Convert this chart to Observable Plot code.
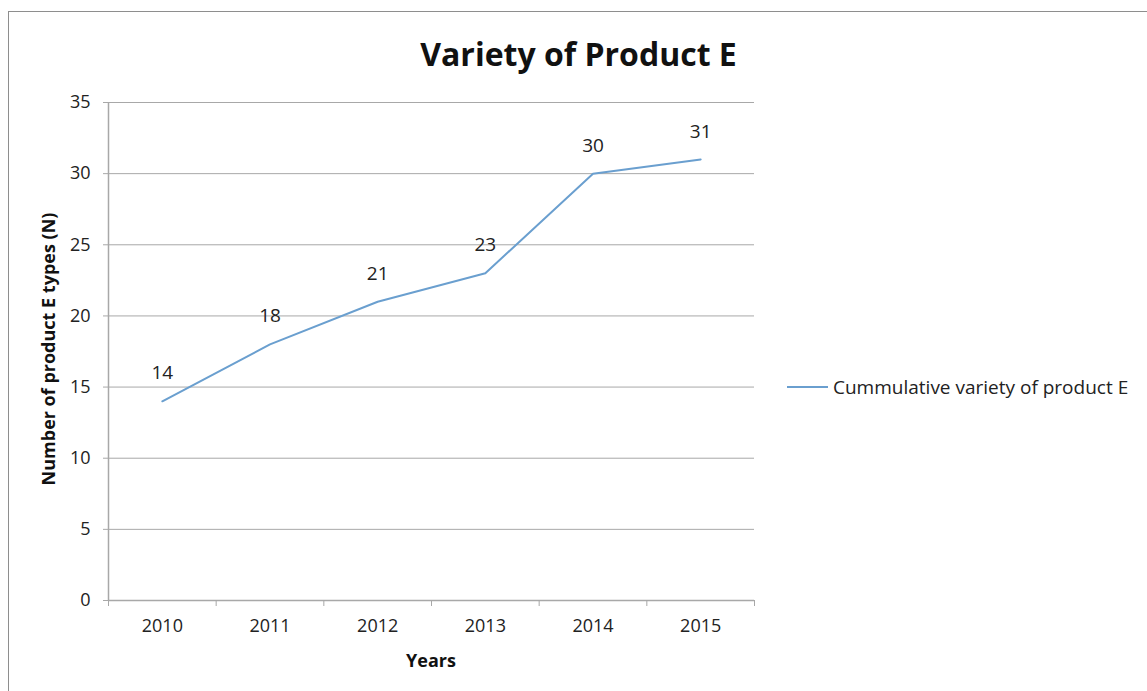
<!DOCTYPE html>
<html>
<head>
<meta charset="utf-8">
<script src="https://cdn.jsdelivr.net/npm/d3@7"></script>
<script src="https://cdn.jsdelivr.net/npm/@observablehq/plot@0.6"></script>
<style>
  html, body { margin: 0; padding: 0; background: #fff; }
  #wrap { position: relative; width: 1147px; height: 691px; overflow: hidden; font-family: "Open Sans", sans-serif; }
  #border { position: absolute; left: 8px; top: 11px; width: 1160px; height: 700px; border: 1.5px solid #8e8e8e; box-sizing: border-box; }
  #title { position: absolute; left: 0; width: 1147px; top: 32px; text-align: center; padding-left: 10px; box-sizing: border-box; font-weight: bold; font-size: 32px; color: #111; }
  #ylab { position: absolute; left: 48px; top: 349px; transform: translate(-50%, -50%) rotate(-90deg); white-space: nowrap; font-weight: bold; font-size: 18px; color: #111; }
  #xlab { position: absolute; left: 431px; top: 660px; transform: translate(-50%, -50%); font-weight: bold; font-size: 18px; color: #111; }
  #legend { position: absolute; left: 787px; top: 374px; display: flex; align-items: center; font-size: 19px; color: #222; white-space: nowrap; }
  #legend svg { margin-right: 5px; }
  #chart { position: absolute; left: 0; top: 0; }
</style>
</head>
<body>
<div id="wrap">
  <div id="chart"></div>
  <div id="border"></div>
  <div id="title">Variety of Product E</div>
  <div id="ylab">Number of product E types (N)</div>
  <div id="xlab">Years</div>
  <div id="legend"><svg width="41" height="4"><line x1="0" x2="41" y1="2" y2="2" stroke="#6a9fcf" stroke-width="2"/></svg><span>Cummulative variety of product E</span></div>
</div>
<script>
const years = ["2010", "2011", "2012", "2013", "2014", "2015"];
const values = [14, 18, 21, 23, 30, 31];
const yTicks = [0, 5, 10, 15, 20, 25, 30, 35];
const seriesName = "Cummulative variety of product E";

const data = years.map((year, i) => ({year, pos: i + 0.5, value: values[i]}));
const boundaries = d3.range(years.length + 1);
const centers = years.map((_, i) => i + 0.5);

const chart = Plot.plot({
  width: 1147,
  height: 691,
  marginLeft: 108,
  marginRight: 393,
  marginTop: 102,
  marginBottom: 91,
  style: {fontFamily: "Open Sans, sans-serif", fontSize: "18px", color: "#222", background: "transparent"},
  x: {type: "linear", domain: [0, years.length]},
  y: {domain: [0, 35]},
  marks: [
    Plot.gridY(yTicks, {stroke: "#a8a8a8", strokeOpacity: 1, strokeWidth: 1}),
    Plot.ruleY([0], {stroke: "#a8a8a8", strokeWidth: 1.5}),
    Plot.ruleX([0], {stroke: "#a8a8a8", strokeWidth: 1.5}),
    Plot.axisY(yTicks, {tickSize: 5, tickPadding: 13, label: null, stroke: "#a8a8a8", fill: "#222", fontSize: 18}),
    Plot.axisX(boundaries, {tickSize: 6, tickFormat: () => "", label: null, stroke: "#a8a8a8"}),
    Plot.axisX(centers, {tickSize: 0, tickPadding: 19, tickFormat: d => years[Math.floor(d)], label: null, fill: "#222", fontSize: 18}),
    Plot.line(data, {x: "pos", y: "value", stroke: "#6a9fcf", strokeWidth: 2}),
    Plot.text(data, {x: "pos", y: "value", text: d => String(d.value), dy: -28, fill: "#222", fontSize: 19})
  ]
});
document.getElementById("chart").appendChild(chart);
</script>
</body>
</html>
